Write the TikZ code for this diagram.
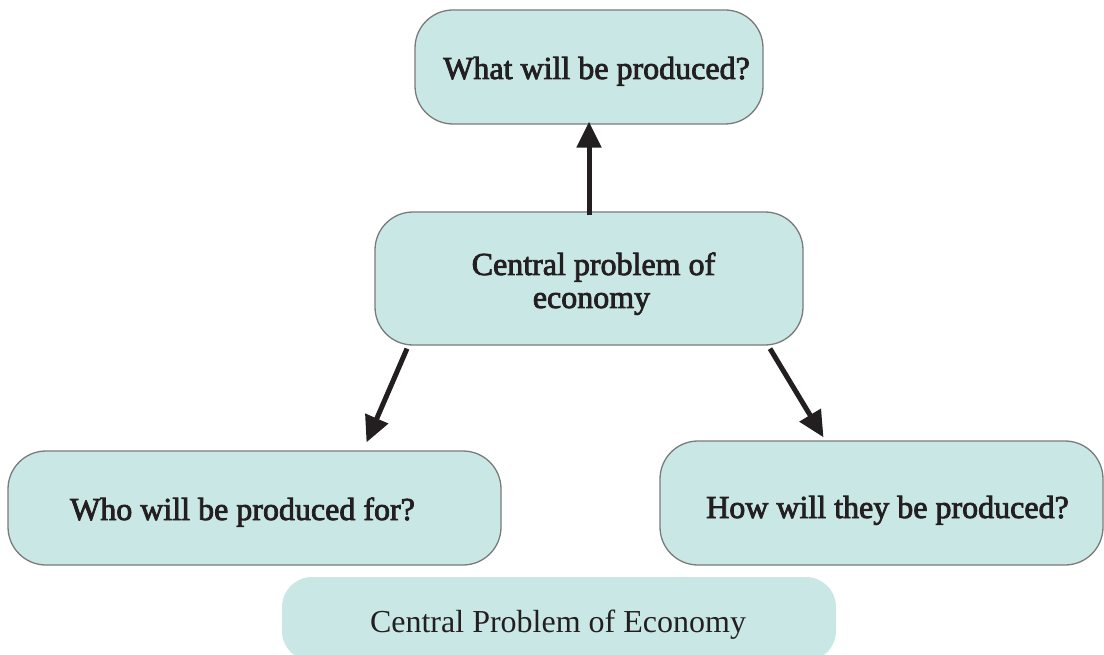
\documentclass[tikz,border=0pt]{standalone}
\usepackage{fontspec}
\setmainfont{Liberation Serif}
\newfontfamily\boxfont{Liberation Serif}[FakeBold=2.5]
\usetikzlibrary{arrows.meta}
\definecolor{boxfill}{HTML}{C9E8E5}
\definecolor{boxline}{HTML}{7A7A7A}
\definecolor{ink}{HTML}{231F20}
% #1 = twice the horizontal offset, #2 = baseline below node centre, #3 = text
\newcommand{\placetext}[3]{\raisebox{-#2}[0pt][0pt]{\makebox[0pt][c]{\kern#1\relax #3}}}
\tikzset{
  qbox/.style={draw=boxline, line width=1.3pt, fill=boxfill, rounded corners=38pt,
    inner sep=0pt, font=\boxfont\fontsize{32}{34}\selectfont, text=ink},
  capbox/.style={fill=boxfill, rounded corners=30pt, inner sep=0pt,
    font=\fontsize{32}{36}\selectfont, text=ink},
  arr/.style={draw=ink, line width=5pt, -{Triangle[length=26pt,width=24pt]}}
}
\begin{document}
\begin{tikzpicture}[x=1pt,y=-1pt]
\useasboundingbox (0,0) rectangle (1104,655);
\node[qbox, minimum width=348pt, minimum height=114pt] (top) at (589,67)
  {\placetext{15pt}{12pt}{What will be produced?}};
\node[qbox, minimum width=428pt, minimum height=133pt] (mid) at (589,278.5)
  {\placetext{9pt}{-3.5pt}{Central problem of}\placetext{5pt}{29.5pt}{economy}};
\node[qbox, minimum width=493pt, minimum height=114pt] (left) at (254.5,508)
  {\placetext{-24pt}{12pt}{Who will be produced for?}};
\node[qbox, minimum width=443pt, minimum height=124pt] (right) at (881.5,503)
  {\placetext{12pt}{15pt}{How will they be produced?}};
\node[capbox, minimum width=554pt, minimum height=84pt] (cap) at (559,619)
  {\placetext{-2pt}{13pt}{Central Problem of Economy}};
\draw[arr] ([yshift=-4pt]mid.north) -- ([yshift=3pt]top.south);
\draw[arr] ([shift={(-182pt,-3pt)}]mid.south) -- ([shift={(112pt,8pt)}]left.north);
\draw[arr] ([shift={(181pt,-3pt)}]mid.south) -- ([shift={(-58pt,3pt)}]right.north);
\end{tikzpicture}
\end{document}
